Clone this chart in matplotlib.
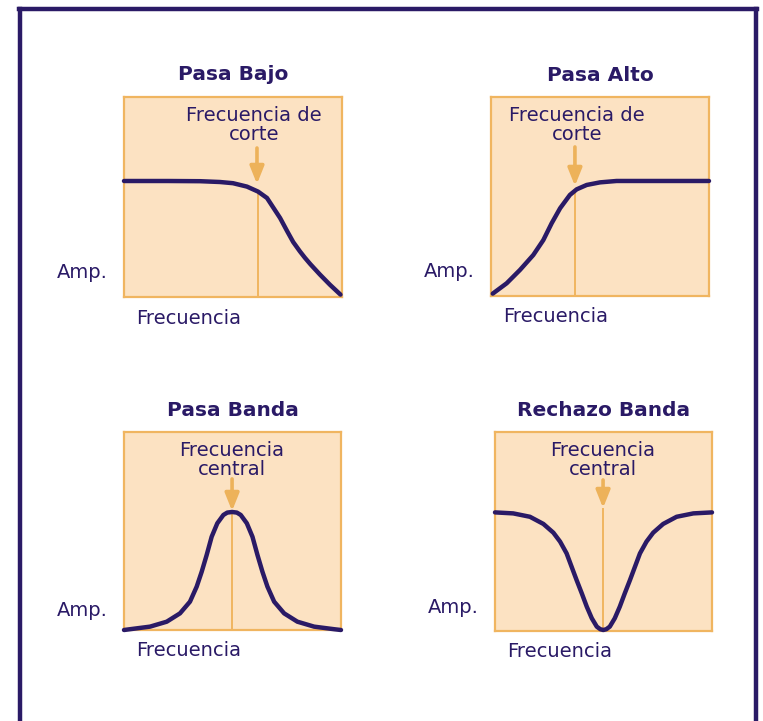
from matplotlib import rcParams, pyplot as plt
from matplotlib.lines import Line2D

rcParams.update({'font.family': 'DejaVu Sans', 'font.size': 14})

# Titles and labels of the four panels
titles = ['Pasa Bajo', 'Pasa Alto', 'Pasa Banda', 'Rechazo Banda']
marker_texts = ['Frecuencia de\ncorte', 'Frecuencia de\ncorte', 'Frecuencia\ncentral', 'Frecuencia\ncentral']
x_label = 'Frecuencia'
y_label = 'Amp.'

# Curves (frequency 0-100, amplitude 0-100 of box)
low_f = [0, 20, 34.9, 44, 50, 56.4, 61.5, 65.6, 68.3, 71.6, 74.8, 77.6, 80.7, 83, 85.5, 89.9, 94.5, 99.3]
low_a = [58, 58, 57.9, 57.5, 56.9, 55.2, 52.7, 49.5, 45, 39.5, 33, 27.5, 22.8, 19.6, 16.4, 11.2, 6.1, 1.2]

high_f = [0.8, 7.2, 13.3, 19.4, 24, 27.8, 31.7, 36.2, 39.3, 43.9, 50, 57.6, 75, 100]
high_a = [1.2, 6.4, 13.1, 20.6, 28.1, 36.5, 44.1, 50.8, 53.6, 55.8, 57.1, 57.8, 57.8, 57.8]

band_f = [0, 2.8, 12, 19.7, 25.8, 30.4, 33.5, 35.8, 38.1, 40.4, 43, 45.8, 47.6, 49.8,
          52, 53.8, 56.6, 59.2, 61.5, 63.8, 66.1, 69.2, 73.8, 79.9, 87.6, 96.8, 100]
band_a = [0, 0.4, 1.7, 4.2, 8.4, 14.3, 21.9, 29.4, 37.9, 47.1, 53.9, 58.1, 59.3, 59.6,
          59.3, 58.1, 53.9, 47.1, 37.9, 29.4, 21.9, 14.3, 8.4, 4.2, 1.7, 0.4, 0]

stop_f = [0, 8.4, 16.1, 22.3, 26.9, 30, 33, 35.3, 37.6, 40, 42.3, 44.6, 46.9, 48.5, 49.9,
          51.3, 52.9, 55.2, 57.5, 59.8, 62.2, 64.5, 66.8, 69.8, 72.9, 77.5, 83.7, 91.4, 100]
stop_a = [59.6, 59.1, 57.4, 53.8, 49.4, 44.9, 39, 32.3, 25.6, 18.9, 12.2, 6.4, 2.2, 0.9, 0.5,
          0.9, 2.2, 6.4, 12.2, 18.9, 25.6, 32.3, 39, 44.9, 49.4, 53.8, 57.4, 59.1, 59.6]

curves_f = [low_f, high_f, band_f, stop_f]
curves_a = [low_a, high_a, band_a, stop_a]

# cutoff/centre frequency, top of the marker line, arrow tail/tip, label centre
cut_f = [61.5, 38.5, 49.8, 49.8]
cut_top = [53, 53, 59.6, 62]
arrow_f = [61, 38.5, 49.8, 49.8]
arrow_tail = [74.5, 74.9, 76.3, 75.9]
arrow_tip = [56.5, 55.3, 60.1, 61.8]
text_f = [59.6, 39.4, 49.8, 49.8]
amp_y = [12.5, 12.5, 10, 11.6]

# box positions in pixels (left, top, right, bottom)
boxes = [(124, 97, 342, 297), (491, 97, 709, 296), (124, 432, 341, 630), (495, 432, 712, 631)]

W, H = 763, 721
navy = '#2A1A66'
fill = '#FCE2C2'
edge = '#F0B560'
arrow_c = '#EDB25A'

fig = plt.figure(figsize=(W / 100, H / 100), dpi=100)

# navy frame around the page (open at the bottom)
fig.add_artist(Line2D([20 / W, 20 / W], [0, 1 - 9 / H], color=navy, lw=3.2, transform=fig.transFigure))
fig.add_artist(Line2D([755.5 / W, 755.5 / W], [0, 1 - 9 / H], color=navy, lw=3.2, transform=fig.transFigure))
fig.add_artist(Line2D([18.5 / W, 757 / W], [1 - 9 / H, 1 - 9 / H], color=navy, lw=3.2, transform=fig.transFigure))

for i in range(4):
    l, t, r, b = boxes[i]
    ax = fig.add_axes([l / W, 1 - b / H, (r - l) / W, (b - t) / H])
    ax.set_facecolor(fill)
    for s in ax.spines.values():
        s.set_color(edge)
        s.set_linewidth(1.6)
    ax.set_xlim(0, 100)
    ax.set_ylim(0, 100)
    ax.set_xticks([])
    ax.set_yticks([])

    ax.vlines(cut_f[i], 0, cut_top[i], color=edge, lw=1.4, zorder=2)
    ax.plot(curves_f[i], curves_a[i], color=navy, lw=3.2, solid_capstyle='round',
            solid_joinstyle='round', clip_on=False, zorder=3)
    ax.annotate('', xy=(arrow_f[i], arrow_tip[i]), xytext=(arrow_f[i], arrow_tail[i]),
                arrowprops=dict(arrowstyle='-|>,head_width=0.3,head_length=0.75',
                                color=arrow_c, lw=2.6, shrinkA=0, shrinkB=0), zorder=2)

    ax.text(text_f[i], 86, marker_texts[i], ha='center', va='center', color=navy,
            linespacing=1.0, multialignment='center')
    ax.text(50, 111, titles[i], ha='center', va='center', color=navy,
            fontsize=14.5, fontweight='bold', clip_on=False)
    ax.text(-7.5, amp_y[i], y_label, ha='right', va='center', color=navy, clip_on=False)
    ax.text(5.5, -10.5, x_label, ha='left', va='center', color=navy, clip_on=False)

plt.savefig('out.png', dpi=100)
